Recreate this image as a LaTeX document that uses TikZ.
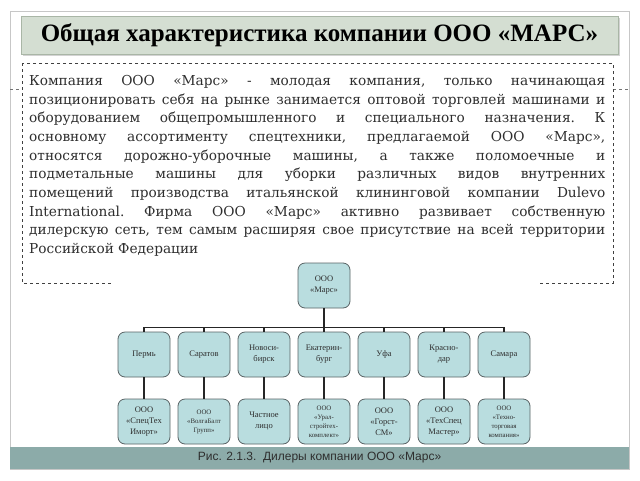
\documentclass[tikz,border=0pt]{standalone}
\usepackage{fontspec}
\setmainfont{Liberation Serif}
\newfontfamily\bodyfont{DejaVu Serif}
\newfontfamily\capfont{Liberation Sans}
\usetikzlibrary{positioning,shadows}

\definecolor{titlefill}{HTML}{D4DED2}
\definecolor{titleline}{HTML}{A9B6A6}
\definecolor{boxfill}{HTML}{B9DDDF}
\definecolor{boxline}{HTML}{5A6466}
\definecolor{bandfill}{HTML}{8CABA9}
\definecolor{inkgray}{HTML}{2E2E2E}

\begin{document}
\begin{tikzpicture}[%
	x=1pt, y=-1pt,
	node distance=60pt,
	frame/.style={draw=black!22, line width=1pt},
	titlebox/.style={draw=titleline, fill=titlefill, minimum width=597pt, minimum height=38pt,
		drop shadow={shadow xshift=1.5pt, shadow yshift=-1.5pt, opacity=.35},
		font=\fontsize{25}{28}\selectfont\bfseries},
	dashbox/.style={draw=black!75, dashed, line width=0.6pt},
	bodytext/.style={text width=576pt, align=justify, inner sep=0pt, text=inkgray,
		font=\bodyfont\fontsize{13.7}{18.7}\selectfont\frenchspacing},
	org/.style={draw=boxline, fill=boxfill, rounded corners=7pt, line width=0.8pt,
		minimum width=52pt, minimum height=45pt, inner sep=1pt, align=center,
		text=inkgray, font=\fontsize{8.5}{11}\selectfont},
	small/.style={font=\fontsize{6.8}{9}\selectfont},
	link/.style={draw=black!85, line width=1.3pt},
	band/.style={fill=bandfill, minimum width=619pt, minimum height=22pt, inner sep=0pt,
		text=inkgray, font=\capfont\fontsize{12}{14}\selectfont}
]
\useasboundingbox (0,0) rectangle (640,480);

\draw[frame] (10,11) rectangle (629,469);
\draw[dashbox, draw=black!55] (10,89) -- (22,89);
\draw[dashbox, draw=black!55] (613,89) -- (629,89);

\node[titlebox] (title) at (319.5,35) {Общая характеристика компании ООО «МАРС»};

\draw[dashbox, fill=white] (22,63) rectangle (613,283);
\node[bodytext, anchor=north west] (about) at (29,75) {Компания ООО «Марс» - молодая компания, только начинающая\linebreak
позиционировать себя на рынке занимается оптовой торговлей машинами и\linebreak
оборудованием общепромышленного и специального назначения. К\linebreak
основному ассортименту спецтехники, предлагаемой ООО «Марс»,\linebreak
относятся дорожно-уборочные машины, а также поломоечные и\linebreak
подметальные машины для уборки различных видов внутренних\linebreak
помещений производства итальянской клининговой компании Dulevo\linebreak
International. Фирма ООО «Марс» активно развивает собственную\linebreak
дилерскую сеть, тем самым расширяя свое присутствие на всей территории\linebreak
Российской Федерации};

\fill[white] (112,260) rectangle (538,446);

\node[org] (mars) at (324,285.5) {ООО\\«Марс»};

\node[org] (perm) at (144,354.5) {Пермь};
\node[org] (saratov) [right of=perm] {Саратов};
\node[org] (novosib) [right of=saratov] {Новоси-\\бирск};
\node[org] (ekat) [right of=novosib] {Екатерин-\\бург};
\node[org] (ufa) [right of=ekat] {Уфа};
\node[org] (krasnodar) [right of=ufa] {Красно-\\дар};
\node[org] (samara) [right of=krasnodar] {Самара};

\node[org,node distance=67pt] (perm2) [below of=perm] {ООО\\«СпецТех\\Иморт»};
\node[org,node distance=67pt,small] (saratov2) [below of=saratov] {ООО\\«ВолгаБалт\\Групп»};
\node[org,node distance=67pt] (novosib2) [below of=novosib] {Частное\\лицо};
\node[org,node distance=67pt,small] (ekat2) [below of=ekat] {ООО\\«Урал-\\стройтех-\\комплект»};
\node[org,node distance=67pt] (ufa2) [below of=ufa] {ООО\\«Горст-\\СМ»};
\node[org,node distance=67pt] (krasnodar2) [below of=krasnodar] {ООО\\«ТехСпец\\Мастер»};
\node[org,node distance=67pt,small] (samara2) [below of=samara] {ООО\\«Техно-\\торговая\\компания»};

\foreach \n in {perm,saratov,novosib,ekat,ufa,krasnodar,samara}
	\path[link] (mars.south) -- ++(0,19) -| (\n.north);
\foreach \n in {perm,saratov,novosib,ekat,ufa,krasnodar,samara}
	\path[link] (\n) -- (\n2);

\node[band] (caption) at (319.5,458) {Рис. 2.1.3.\ \ Дилеры компании ООО «Марс»};

\end{tikzpicture}
\end{document}
